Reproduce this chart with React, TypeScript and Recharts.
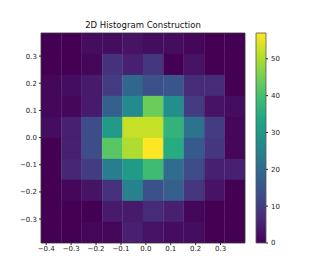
import React from "react";
import {
  ComposedChart,
  Scatter,
  XAxis,
  YAxis,
  ReferenceArea,
} from "recharts";

// histogram bin range (data units)
const xMin = -0.421;
const xMax = 0.398;
const yMin = -0.388;
const yMax = 0.385;
const nBins = 10;

const xTicks = [-0.4, -0.3, -0.2, -0.1, 0.0, 0.1, 0.2, 0.3];
const yTicks = [-0.3, -0.2, -0.1, 0.0, 0.1, 0.2, 0.3];
const cbarTicks = [0, 10, 20, 30, 40, 50];
const cbarMax = 57;

// counts, rows from top (high y) to bottom, columns left to right
const row0 = [0, 0, 2, 2, 3, 2, 2, 1, 0, 0];
const row1 = [0, 0, 1, 8, 5, 9, 0, 3, 0, 0];
const row2 = [1, 2, 4, 10, 19, 14, 15, 7, 7, 0];
const row3 = [1, 1, 4, 17, 27, 44, 28, 10, 3, 2];
const row4 = [2, 5, 13, 31, 52, 52, 37, 22, 10, 1];
const row5 = [0, 5, 13, 42, 50, 57, 35, 16, 9, 1];
const row6 = [0, 6, 10, 24, 31, 39, 20, 13, 5, 5];
const row7 = [0, 1, 3, 8, 25, 14, 17, 9, 3, 0];
const row8 = [0, 0, 0, 4, 4, 7, 5, 1, 0, 0];
const row9 = [0, 0, 1, 1, 5, 3, 2, 2, 0, 0];
const counts = [row0, row1, row2, row3, row4, row5, row6, row7, row8, row9];

const viridis = [
  "#440154", "#482475", "#414487", "#355f8d", "#2a788e", "#21918c",
  "#22a884", "#44bf70", "#7ad151", "#bddf26", "#fde725",
];

const hex = (c: string) => [1, 3, 5].map((i) => parseInt(c.slice(i, i + 2), 16));

const colorFor = (v: number) => {
  const t = Math.max(0, Math.min(1, v / cbarMax)) * (viridis.length - 1);
  const i = Math.min(Math.floor(t), viridis.length - 2);
  const f = t - i;
  const a = hex(viridis[i]);
  const b = hex(viridis[i + 1]);
  const m = a.map((c, k) => Math.round(c + (b[k] - c) * f));
  return `rgb(${m[0]},${m[1]},${m[2]})`;
};

const fmt = (v: number) => v.toFixed(1).replace("-", "\u2212");

const tickStyle = { fontSize: 7, fill: "#222", fontFamily: "DejaVu Sans" };

export default function App() {
  const dx = (xMax - xMin) / nBins;
  const dy = (yMax - yMin) / nBins;
  const cells: { x1: number; x2: number; y1: number; y2: number; v: number }[] = [];
  counts.forEach((row, r) =>
    row.forEach((v, c) => {
      cells.push({
        x1: xMin + c * dx,
        x2: xMin + (c + 1) * dx,
        y1: yMax - (r + 1) * dy,
        y2: yMax - r * dy,
        v,
      });
    })
  );
  const centers = cells.map((c) => ({ x: (c.x1 + c.x2) / 2, y: (c.y1 + c.y2) / 2 }));

  return (
    <div style={{ position: "absolute", left: 0, top: 0, width: 327, height: 273, background: "#fff" }}>
      <div
        style={{
          position: "absolute",
          left: 41,
          width: 204,
          top: 20,
          textAlign: "center",
          fontFamily: "DejaVu Sans",
          fontSize: 8.5,
          color: "#111",
        }}
      >
        2D Histogram Construction
      </div>
      <div style={{ position: "absolute", left: 0, top: 0 }}>
        <ComposedChart
          width={327}
          height={273}
          data={centers}
          margin={{ top: 33, right: 82, bottom: 5, left: 6 }}
        >
          <XAxis
            type="number"
            dataKey="x"
            domain={[xMin, xMax]}
            allowDataOverflow
            ticks={xTicks}
            tickFormatter={fmt}
            tick={tickStyle}
            tickSize={2}
            tickMargin={1}
            axisLine={false}
            tickLine={{ stroke: "#222" }}
            height={25}
          />
          <YAxis
            type="number"
            dataKey="y"
            domain={[yMin, yMax]}
            allowDataOverflow
            ticks={yTicks}
            tickFormatter={fmt}
            tick={tickStyle}
            tickSize={2}
            tickMargin={2}
            axisLine={false}
            tickLine={{ stroke: "#222" }}
            width={35}
          />
          {cells.map((c, i) => (
            <ReferenceArea
              key={i}
              x1={c.x1}
              x2={c.x2}
              y1={c.y1}
              y2={c.y2}
              ifOverflow="hidden"
              fill={colorFor(c.v)}
              fillOpacity={1}
              stroke={colorFor(c.v)}
              strokeWidth={0.3}
            />
          ))}
          <ReferenceArea
            x1={xMin}
            x2={xMax}
            y1={yMin}
            y2={yMax}
            ifOverflow="visible"
            fill="none"
            stroke="#333"
            strokeWidth={0.8}
          />
          <Scatter dataKey="y" fill="none" isAnimationActive={false} shape={() => <g />} />
        </ComposedChart>
      </div>
      <div style={{ position: "absolute", left: 0, top: 0 }}>
        <ComposedChart
          width={327}
          height={273}
          data={[{ x: 0.5, v: 0 }]}
          margin={{ top: 33, right: 31, bottom: 30, left: 256 }}
        >
          <defs>
            <linearGradient id="viridisBar" x1="0" y1="1" x2="0" y2="0">
              {viridis.map((c, i) => (
                <stop key={i} offset={`${(i / (viridis.length - 1)) * 100}%`} stopColor={c} />
              ))}
            </linearGradient>
          </defs>
          <XAxis type="number" dataKey="x" domain={[0, 1]} hide />
          <YAxis
            type="number"
            dataKey="v"
            orientation="right"
            domain={[0, cbarMax]}
            ticks={cbarTicks}
            tick={{ ...tickStyle, textAnchor: "start" }}
            tickSize={2}
            tickMargin={3}
            axisLine={false}
            tickLine={{ stroke: "#222" }}
            width={30}
          />
          <ReferenceArea
            x1={0}
            x2={1}
            y1={0}
            y2={cbarMax}
            ifOverflow="visible"
            fill="url(#viridisBar)"
            fillOpacity={1}
            stroke="#555"
            strokeWidth={0.8}
          />
          <Scatter dataKey="v" fill="none" isAnimationActive={false} shape={() => <g />} />
        </ComposedChart>
      </div>
    </div>
  );
}
